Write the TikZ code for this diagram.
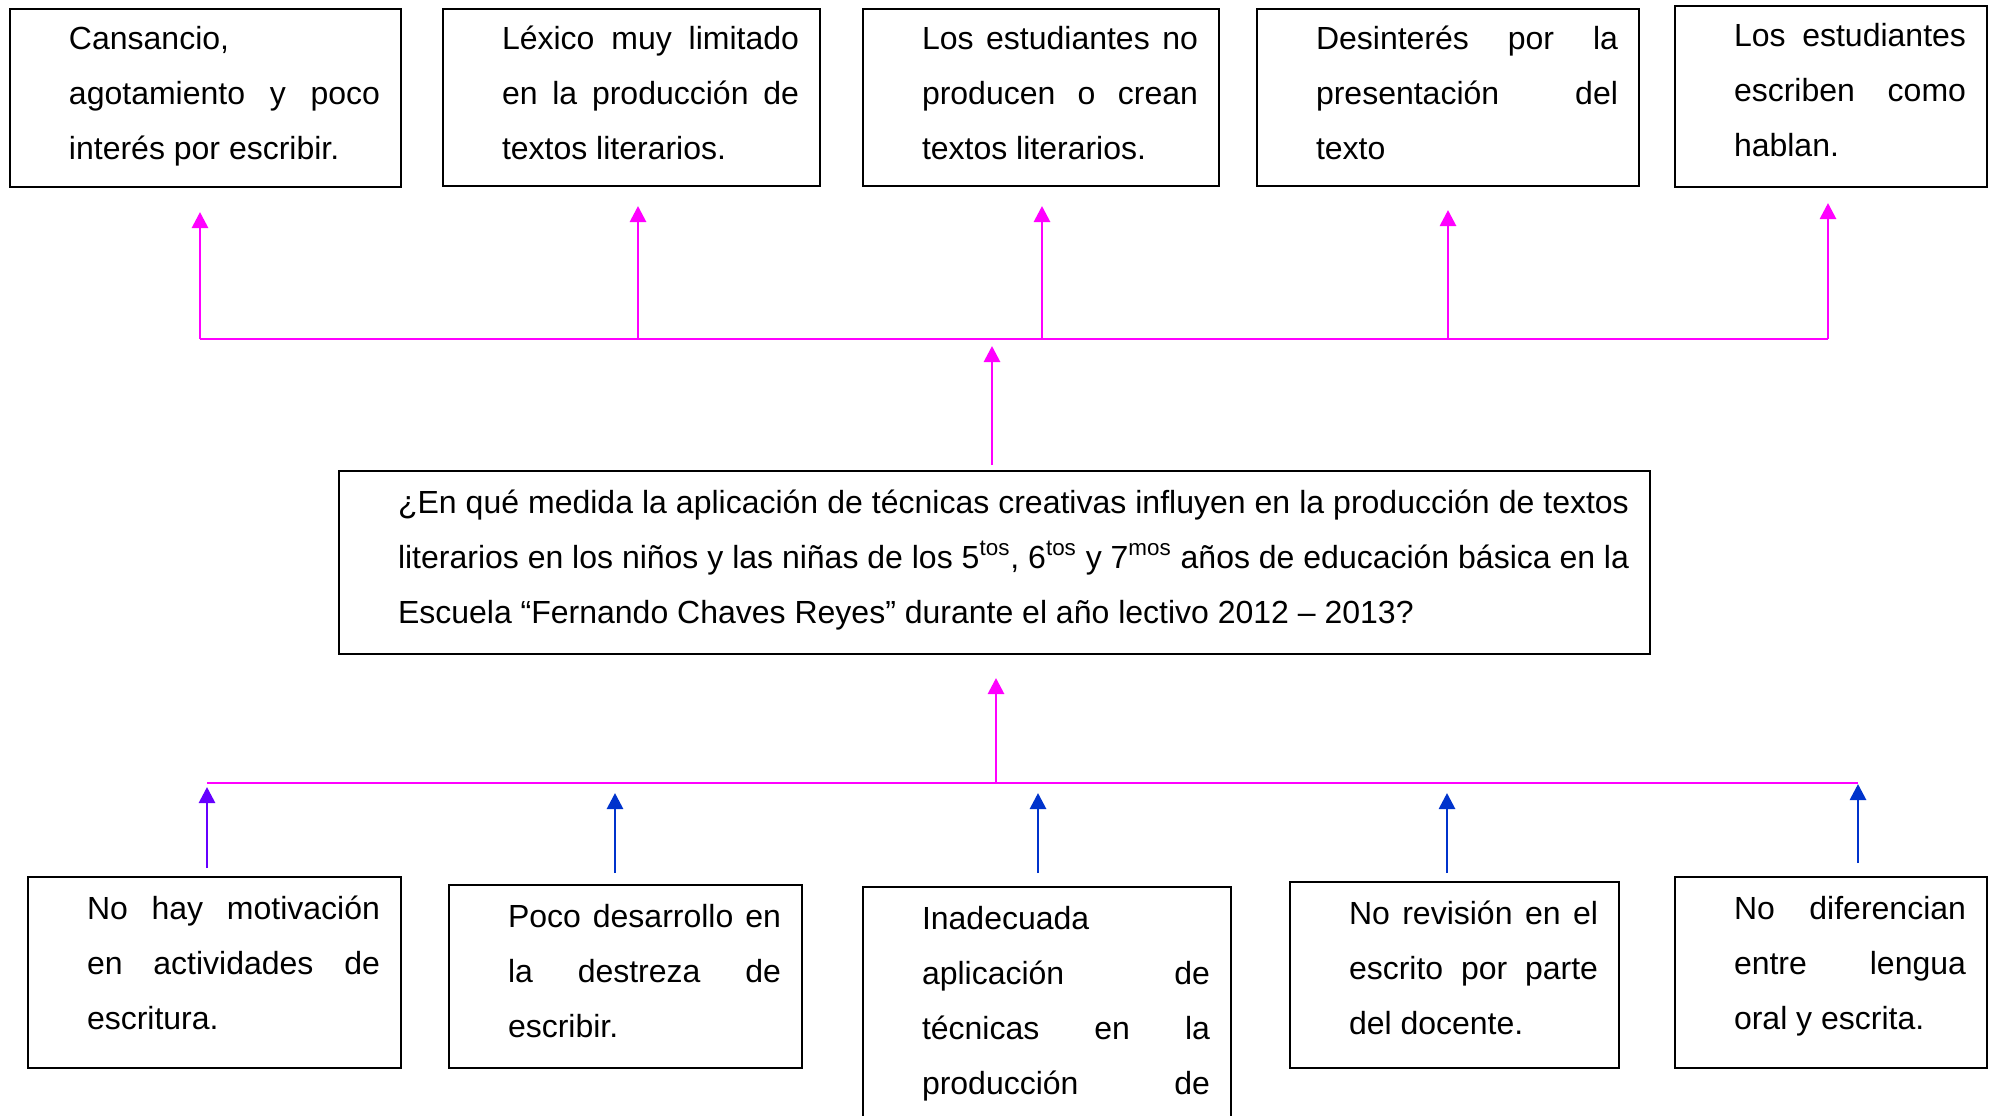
\documentclass[tikz,border=0pt]{standalone}
\usepackage{fontspec}
\setmainfont{Liberation Sans}
\usepackage{tikz}
\usetikzlibrary{calc, arrows.meta}
\definecolor{rosa}{RGB}{255,0,255}
\definecolor{lila}{RGB}{102,0,255}
\definecolor{azul}{RGB}{0,51,204}
\newcommand{\jline}[1]{\makebox[\dimexpr\linewidth-\leftskip\relax][s]{\spaceskip=0pt\xspaceskip=0pt #1}}

\begin{document}
\begin{tikzpicture}[x=0.5pt, y=-0.5pt,
    caja/.style={draw, line width=1pt, anchor=north west, align=left, inner xsep=10.5pt, inner ysep=0pt, text height=21pt,
        font=\fontsize{16}{27.5}\selectfont, execute at begin node={\fontsize{16}{27.5}\selectfont\leftskip=19pt\spaceskip=0pt\xspaceskip=0pt\relax}},
    bus/.style={draw=rosa, line width=1pt},
    flecha/.style={line width=1.4pt, -{Triangle[length=8pt,width=8pt]}}]
    \useasboundingbox (0,0) rectangle (1999,1115);

    % efectos
    \node[caja, text width=174.5pt, text height=20pt, text depth=69pt] (e1) at (9,8) {Cansancio,\\ \jline{agotamiento y poco}\\ interés por escribir.};
    \node[caja, text width=167.5pt, text height=20pt, text depth=68.5pt] (e2) at (442,8) {\jline{Léxico muy limitado}\\ \jline{en la producción de}\\ textos literarios.};
    \node[caja, text width=157pt, text height=20pt, text depth=68.5pt] (e3) at (862,8) {\jline{Los estudiantes no}\\ \jline{producen o crean}\\ textos literarios.};
    \node[caja, text width=170pt, text height=20pt, text depth=68.5pt] (e4) at (1256,8) {\jline{Desinterés por la}\\ \jline{presentación del}\\ texto};
    \node[caja, text width=135pt, text height=20pt, text depth=70.5pt] (e5) at (1674,5) {\jline{Los estudiantes}\\ \jline{escriben como}\\ hablan.};

    % problema
    \node[caja, text width=634.5pt, text depth=70.5pt] (p) at (338,470) {\jline{¿En qué medida la aplicación de técnicas creativas influyen en la producción de textos}\\ \jline{literarios en los niños y las niñas de los 5\textsuperscript{tos}, 6\textsuperscript{tos} y 7\textsuperscript{mos} años de educación básica en la}\\ Escuela “Fernando Chaves Reyes” durante el año lectivo 2012 – 2013?};

    % causas
    \node[caja, text width=165.5pt, text depth=74.5pt] (c1) at (27,876) {\jline{No hay motivación}\\ \jline{en actividades de}\\ escritura.};
    \node[caja, text width=155.5pt, text depth=70.5pt] (c2) at (448,884) {\jline{Poco desarrollo en}\\ \jline{la destreza de}\\ escribir.};
    \node[caja, text width=163pt, text depth=130pt] (c3) at (862,886) {Inadecuada\\ \jline{aplicación de}\\ \jline{técnicas en la}\\ \jline{producción de}};
    \node[caja, text width=143.5pt, text depth=72pt] (c4) at (1289,881) {\jline{No revisión en el}\\ \jline{escrito por parte}\\ del docente.};
    \node[caja, text width=135pt, text depth=74.5pt] (c5) at (1674,876) {\jline{No diferencian}\\ \jline{entre lengua}\\ oral y escrita.};

    % linea de arriba
    \coordinate (k1) at (200,339);
    \coordinate (k2) at (638,339);
    \coordinate (k3) at (1042,339);
    \coordinate (k4) at (1448,339);
    \coordinate (k5) at (1828,339);
    \coordinate (km) at (992,339);
    \draw[bus] (k1) -- (k5);
    \draw[rosa, flecha, shorten >=12pt] (k1) -- (k1 |- e1.south);
    \draw[rosa, flecha, shorten >=9.5pt] (k2) -- (k2 |- e2.south);
    \draw[rosa, flecha, shorten >=9.5pt] (k3) -- (k3 |- e3.south);
    \draw[rosa, flecha, shorten >=11.5pt] (k4) -- (k4 |- e4.south);
    \draw[rosa, flecha, shorten >=7.5pt] (k5) -- (k5 |- e5.south);
    \draw[rosa, flecha, shorten <=2.5pt, shorten >=3.5pt] (km |- p.north) -- (km); %al problema

    % linea de abajo
    \coordinate (j1) at (207,783);
    \coordinate (j2) at (615,783);
    \coordinate (j3) at (1038,783);
    \coordinate (j4) at (1447,783);
    \coordinate (j5) at (1858,783);
    \coordinate (jm) at (996,783);
    \draw[bus] (j1) -- (j5);
    \draw[rosa, flecha, shorten >=11.5pt] (jm) -- (jm |- p.south);
    \draw[lila, flecha, shorten <=4pt, shorten >=2pt] (j1 |- c1.north) -- (j1);
    \draw[azul, flecha, shorten <=5.5pt, shorten >=5pt] (j2 |- c2.north) -- (j2);
    \draw[azul, flecha, shorten <=6.5pt, shorten >=5pt] (j3 |- c3.north) -- (j3);
    \draw[azul, flecha, shorten <=4pt, shorten >=5pt] (j4 |- c4.north) -- (j4);
    \draw[azul, flecha, shorten <=6.5pt, shorten >=0.5pt] (j5 |- c5.north) -- (j5);
\end{tikzpicture}
\end{document}
